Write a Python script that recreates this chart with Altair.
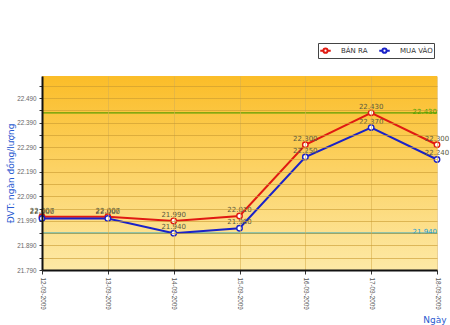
import altair as alt
import pandas as pd

dates = ["12-09-2009", "13-09-2009", "14-09-2009", "15-09-2009",
         "16-09-2009", "17-09-2009", "18-09-2009"]
ban_ra = [22007, 22007, 21990, 22010, 22300, 22430, 22300]
mua_vao = [22000, 22000, 21940, 21960, 22250, 22370, 22240]
series_names = ["BÁN RA", "MUA VÀO"]
series_colors = ["#e01a12", "#1a22c8"]
ref_values = [22430, 21940]
ref_colors = ["#5c9e00", "#2aa6c0"]
ref_label_colors = ["#4aa000", "#1a9ed8"]
y_min, y_max = 21790, 22580
y_ticks = list(range(21790, 22580, 50))

rows = []
for d, a, b in zip(dates, ban_ra, mua_vao):
    rows.append({"date": d, "series": series_names[0], "v": a})
    rows.append({"date": d, "series": series_names[1], "v": b})
df = pd.DataFrame(rows)
ref_df = pd.DataFrame({"v": ref_values, "c": ref_colors, "lc": ref_label_colors,
                       "date": [dates[-1]] * len(ref_values)})

W, H = 395, 194
FONT = "DejaVu Sans"
SMALL = "Liberation Sans"
fmt = "replace(format(datum.v, ','), ',', '.')"

x_scale = alt.Scale(type="point", padding=0, domain=dates)
x_enc = alt.X("date:N", sort=dates, scale=x_scale,
              axis=alt.Axis(title="Ngày", labelAngle=90, labelAlign="left",
                            labelBaseline="middle", labelFontSize=6.3, labelColor="#555",
                            labelFont=SMALL, labelPadding=3,
                            tickColor="#333", tickSize=4,
                            domainColor="#111", domainWidth=2,
                            grid=True, gridColor="#d8b050", gridOpacity=0.6,
                            titleColor="#2a5bd0", titleFont=FONT, titleFontSize=9,
                            titleFontWeight="normal", titleX=404, titleY=49,
                            titleAlign="right", titleBaseline="middle",
                            zindex=1))
y_scale = alt.Scale(domain=[y_min, y_max], nice=False, zero=False)
y_axis = alt.Axis(title="ĐVT: ngàn đồng/lượng", values=y_ticks,
                  labelExpr="(datum.value - 21790) % 100 == 0 ? replace(format(datum.value, ','), ',', '.') : ''",
                  labelOverlap=False,
                  labelFontSize=6.3, labelColor="#666", labelFont=SMALL,
                  labelPadding=3, tickColor="#333", tickSize=3,
                  domainColor="#111", domainWidth=2,
                  grid=True, gridColor="#c89a30", gridOpacity=0.6,
                  titleColor="#2a5bd0", titleFont=FONT, titleFontSize=9,
                  titleFontWeight="normal", titleX=-27, titleY=97,
                  zindex=1)
y_enc = alt.Y("v:Q", scale=y_scale, axis=y_axis)

color_enc = alt.Color("series:N",
                      scale=alt.Scale(domain=series_names, range=series_colors),
                      legend=alt.Legend(title=None, orient="none", direction="horizontal",
                                        legendX=276, legendY=-33,
                                        symbolType="M-1,0H-0.4M0.4,0H1M0.4,0A0.4,0.4 0 1 1 -0.4,0A0.4,0.4 0 1 1 0.4,0",
                                        symbolSize=110, symbolStrokeWidth=2,
                                        symbolFillColor="white",
                                        labelFont=FONT, labelFontSize=7, labelColor="#333",
                                        labelOffset=9, columnPadding=7,
                                        strokeColor="#444", fillColor="white",
                                        padding=1))

background = alt.Chart(pd.DataFrame({"k": [0]})).mark_rect(
    color=alt.Gradient(gradient="linear",
                       stops=[alt.GradientStop(color="#fbbd28", offset=0),
                              alt.GradientStop(color="#fde9a6", offset=1)],
                       x1=0, x2=0, y1=0, y2=1)
).encode(
    x=alt.X(datum=dates[0], type="nominal", scale=x_scale),
    x2=alt.datum(dates[-1]),
    y=alt.Y(datum=y_max, type="quantitative", scale=y_scale, axis=y_axis),
    y2=alt.datum(y_min),
)

ref_lines = alt.Chart(ref_df).mark_rule(strokeWidth=1.2).encode(
    y=alt.Y("v:Q", scale=y_scale, axis=y_axis),
    color=alt.Color("c:N", scale=None),
)
ref_labels = alt.Chart(ref_df).transform_calculate(lbl=fmt).mark_text(
    align="right", baseline="middle", dy=-1, font=FONT, fontSize=7
).encode(
    x=alt.X("date:N", sort=dates, scale=x_scale),
    y=alt.Y("v:Q", scale=y_scale, axis=y_axis),
    text="lbl:N",
    color=alt.Color("lc:N", scale=None),
)

base = alt.Chart(df)
lines = base.mark_line(strokeWidth=2).encode(x=x_enc, y=y_enc, color=color_enc,
                                             detail="series:N")
points = base.mark_point(shape="circle", filled=False, fill="white", fillOpacity=1,
                         size=30, strokeWidth=1.4, opacity=1).encode(
    x=alt.X("date:N", sort=dates, scale=x_scale), y=y_enc,
    color=alt.Color("series:N", scale=alt.Scale(domain=series_names, range=series_colors)))
labels = base.transform_calculate(lbl=fmt).mark_text(
    baseline="alphabetic", dy=-4, font=FONT, fontSize=7, color="#5a5a40"
).encode(x=alt.X("date:N", sort=dates, scale=x_scale),
         y=y_enc, text="lbl:N")

chart = alt.layer(background, ref_lines, lines, points, labels, ref_labels).properties(
    width=W, height=H,
    padding={"left": 42, "top": 76, "right": 13, "bottom": 55},
    autosize=alt.AutoSizeParams(type="none"),
    background="white",
).configure_view(stroke=None).configure_axisY(labelOverlap=False)

chart.save("out.html", embed_options={"renderer": "svg", "actions": False})
